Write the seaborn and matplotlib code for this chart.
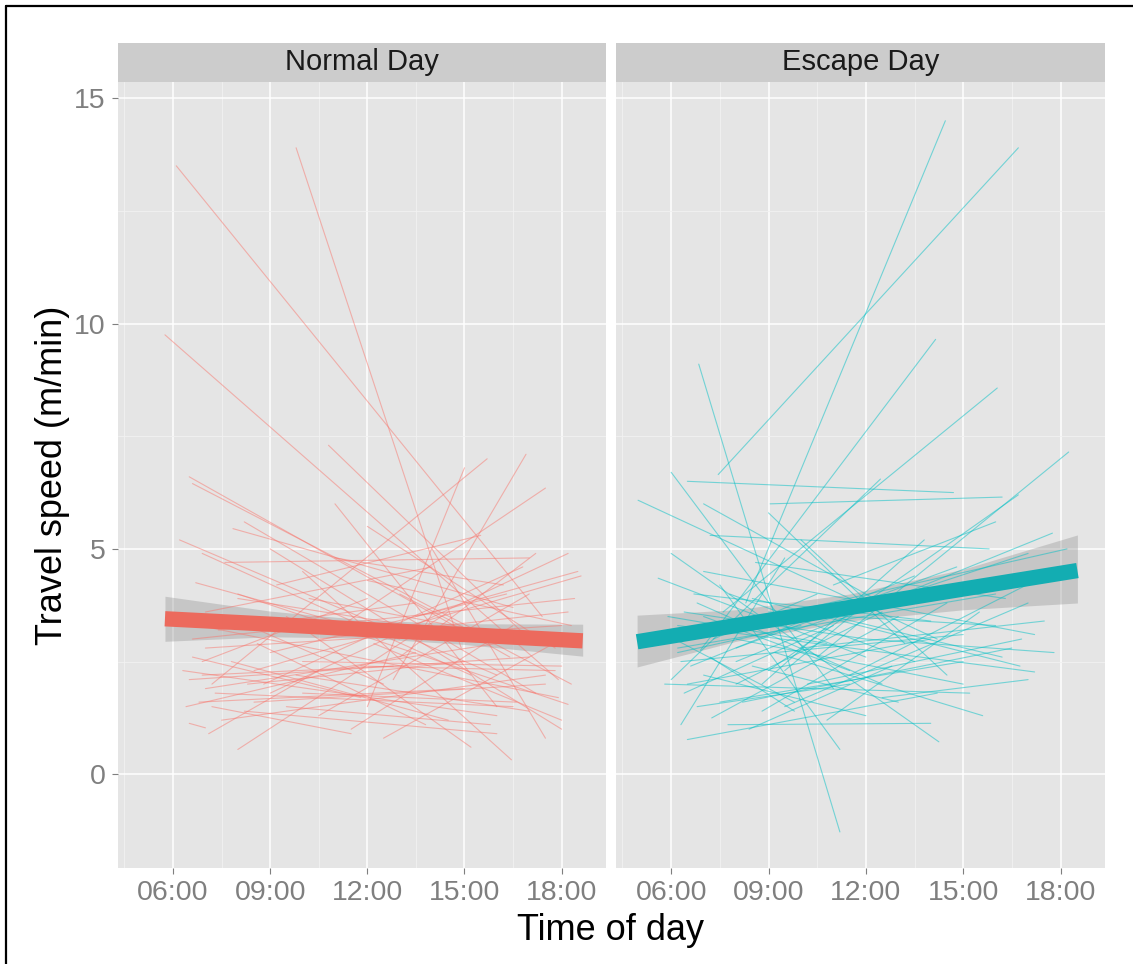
import matplotlib
matplotlib.use("Agg")
import numpy as np
import pandas as pd
import matplotlib.pyplot as plt
import seaborn as sns
from matplotlib.lines import Line2D

# Individual trend lines (start hour, start speed, end hour, end speed)
normal_t0 = [6.1, 9.8, 5.75, 6.5, 6.6, 10.8, 7.2, 12.8, 11.0, 6.2, 8.2, 7.85, 9.0, 8.5, 6.5,
             8.0, 10.0, 9.5, 8.0, 6.8, 6.8, 6.5, 6.3, 6.7, 7.0, 7.5, 9.0, 11.0, 12.0, 7.0,
             8.6, 10.5, 6.9, 13.0, 7.3, 9.2, 6.6, 11.5, 8.0, 14.0, 7.6, 10.0, 6.4, 12.5, 8.8,
             6.9, 13.5, 9.5, 7.1, 11.0, 6.6, 12.0, 10.2, 8.2, 12.2,
             7.0, 8.5, 7.8, 9.8, 6.9, 10.5, 8.0, 11.8, 7.4, 9.0, 12.0, 7.2, 10.0, 13.0, 8.3]
normal_v0 = [13.5, 13.9, 9.75, 6.6, 6.45, 7.3, 2.0, 2.1, 3.2, 5.2, 5.6, 5.45, 1.8, 2.3, 1.13,
             0.55, 4.5, 3.5, 4.0, 3.3, 1.6, 2.1, 2.3, 4.25, 2.8, 1.2, 5.0, 6.0, 5.5, 3.6,
             2.9, 1.3, 2.5, 4.0, 1.8, 4.2, 3.0, 1.0, 3.4, 5.0, 4.7, 2.5, 1.5, 0.8, 2.0,
             4.9, 3.5, 1.5, 0.9, 4.8, 2.6, 1.5, 3.9, 1.4, 2.9,
             1.9, 1.6, 2.5, 2.2, 2.2, 3.0, 3.9, 2.4, 3.2, 2.7, 4.3, 1.5, 1.8, 2.6, 2.0]
normal_t1 = [17.4, 14.9, 17.9, 16.4, 15.6, 17.0, 15.7, 16.9, 17.5, 16.0, 17.2, 16.5, 18.2, 18.6, 7.0,
             14.5, 16.45, 15.2, 18.2, 17.9, 15.0, 17.0, 16.0, 13.0, 18.0, 17.5, 18.0, 16.0, 17.8, 14.0,
             13.8, 17.0, 12.0, 18.3, 16.5, 15.5, 18.4, 16.5, 12.5, 17.5, 17.0, 18.0, 13.5, 18.0, 16.8,
             15.2, 18.5, 15.8, 10.5, 16.2, 11.8, 15.0, 17.6, 16.0, 18.0,
             16.0, 17.5, 14.5, 17.0, 12.8, 18.2, 16.0, 17.8, 13.5, 16.3, 18.3, 11.5, 16.6, 17.2, 15.0]
normal_v1 = [3.5, 2.8, 2.1, 2.6, 3.1, 3.0, 7.0, 7.1, 6.35, 2.2, 1.8, 3.7, 4.9, 4.4, 1.03,
             3.6, 0.32, 0.6, 1.55, 1.7, 1.9, 2.6, 1.3, 3.0, 3.3, 2.2, 1.0, 1.5, 2.8, 4.6,
             1.1, 4.0, 3.9, 2.0, 1.5, 5.3, 3.9, 3.3, 2.0, 0.8, 4.8, 2.4, 2.7, 3.0, 4.6,
             2.2, 4.5, 1.1, 2.3, 4.2, 1.7, 6.8, 2.9, 0.9, 1.2,
             2.9, 2.0, 1.2, 1.4, 2.4, 3.6, 3.0, 2.3, 3.8, 4.0, 3.3, 0.9, 1.6, 4.9, 2.5]

escape_t0 = [8.3, 7.45, 6.85, 6.9, 6.0, 4.98, 6.5, 9.05, 10.5, 7.6, 9.0, 6.0, 8.0, 7.0, 6.2,
             8.5, 7.75, 6.5, 6.0, 7.5, 6.3, 5.8, 7.25, 5.6, 6.2, 8.0, 6.6, 9.5, 10.0, 6.8,
             8.8, 7.2, 5.9, 11.5, 6.4, 8.2, 9.8, 6.7, 10.8, 7.0, 12.0, 8.6, 6.1, 9.2, 7.8,
             11.0, 6.3, 8.4, 10.2, 7.0, 9.0, 12.5, 6.8, 8.0, 7.3,
             6.5, 7.0, 8.0, 6.2, 9.0, 7.5, 8.5, 6.8, 10.0, 7.2, 8.8, 6.4, 11.0, 7.8, 9.5]
escape_v0 = [3.8, 6.65, 9.1, 2.75, 6.7, 6.08, 6.5, 6.0, 2.6, 3.6, 2.3, 2.1, 2.5, 4.5, 3.3,
             3.9, 1.1, 0.77, 4.9, 4.2, 1.1, 2.0, 1.25, 4.35, 2.8, 3.0, 2.4, 1.5, 5.2, 3.8,
             2.0, 5.3, 3.5, 2.2, 1.8, 1.6, 3.2, 4.0, 1.2, 2.2, 3.0, 4.7, 3.0, 2.7, 3.3,
             4.2, 2.5, 1.0, 2.0, 6.0, 5.8, 1.7, 1.5, 2.8, 3.0,
             2.0, 3.5, 2.0, 2.7, 3.6, 1.6, 2.4, 3.1, 2.8, 2.6, 1.4, 3.6, 3.5, 4.0, 2.3]
escape_t1 = [14.45, 16.7, 11.2, 14.15, 11.0, 14.2, 14.7, 16.2, 18.25, 16.05, 16.7, 12.45, 17.75, 17.2, 17.2,
             16.75, 14.0, 14.2, 14.25, 11.2, 9.5, 15.2, 13.0, 12.0, 16.0, 15.0, 13.5, 17.0, 14.5, 12.5,
             13.8, 15.8, 10.8, 17.5, 11.0, 16.5, 17.0, 14.0, 15.5, 12.0, 17.8, 16.3, 9.8, 15.6, 18.2,
             16.0, 15.0, 12.8, 16.8, 12.5, 13.2, 17.0, 11.5, 14.8, 10.5,
             14.0, 11.5, 12.5, 10.0, 16.0, 15.0, 13.0, 16.5, 17.5, 9.8, 14.5, 12.0, 16.2, 13.5, 12.2]
escape_v1 = [14.5, 13.9, -1.28, 9.65, 1.9, 3.0, 6.25, 6.15, 7.15, 8.57, 6.2, 6.55, 5.35, 3.1, 2.27,
             2.4, 1.13, 1.8, 0.72, 0.55, 4.8, 1.8, 3.5, 2.6, 4.0, 2.0, 4.4, 3.8, 2.2, 2.0,
             5.2, 5.0, 2.9, 4.4, 3.3, 2.8, 4.9, 3.4, 3.6, 1.3, 2.7, 3.9, 1.6, 1.3, 5.0,
             5.6, 3.1, 2.4, 3.0, 3.8, 2.9, 2.1, 2.0, 4.6, 4.0,
             3.0, 2.3, 3.6, 3.3, 3.3, 2.5, 1.6, 4.3, 3.4, 1.4, 3.8, 3.0, 2.6, 2.5, 3.9]

# Overall fit with confidence band
normal_fit_t = [5.75, 9.0, 12.0, 15.0, 18.65]
normal_fit = [3.45, 3.33, 3.21, 3.10, 2.96]
normal_lo = [2.95, 3.05, 3.02, 2.88, 2.62]
normal_hi = [3.95, 3.62, 3.42, 3.34, 3.33]

escape_fit_t = [4.95, 8.0, 11.5, 15.0, 18.52]
escape_fit = [2.94, 3.30, 3.70, 4.11, 4.52]
escape_lo = [2.38, 2.95, 3.40, 3.65, 3.80]
escape_hi = [3.53, 3.65, 4.00, 4.55, 5.31]

panel_names = ["Normal Day", "Escape Day"]
x_ticks = [6, 9, 12, 15, 18]
x_labels = ["06:00", "09:00", "12:00", "15:00", "18:00"]
y_ticks = [0, 5, 10, 15]


def to_long(t0, v0, t1, v1):
    rows = []
    for i in range(len(t0)):
        rows.append({"id": i, "hour": t0[i], "speed": v0[i]})
        rows.append({"id": i, "hour": t1[i], "speed": v1[i]})
    return pd.DataFrame(rows)


sns.set_style("darkgrid", {"axes.facecolor": "#E5E5E5", "grid.color": "white"})
plt.rcParams["font.family"] = ["Liberation Sans", "DejaVu Sans"]

W, H = 1133, 964
fig = plt.figure(figsize=(W / 100, H / 100), dpi=100)


def box(l, t, r, b):
    return [l / W, 1 - b / H, (r - l) / W, (b - t) / H]


panels = [
    (to_long(normal_t0, normal_v0, normal_t1, normal_v1), "#F8766D", "#EC6A5D",
     normal_fit_t, normal_fit, normal_lo, normal_hi, (118, 606)),
    (to_long(escape_t0, escape_v0, escape_t1, escape_v1), "#00BFC4", "#13ADB2",
     escape_fit_t, escape_fit, escape_lo, escape_hi, (616, 1105)),
]

for k, (df, thin_col, thick_col, ft, fv, lo, hi, (l, r)) in enumerate(panels):
    ax = fig.add_axes(box(l, 82, r, 868))
    sns.lineplot(data=df, x="hour", y="speed", units="id", estimator=None,
                 color=thin_col, lw=0.8, alpha=0.5, ax=ax, legend=False)
    ax.fill_between(ft, lo, hi, color="#999999", alpha=0.4, lw=0)
    ax.plot(ft, fv, color=thick_col, lw=11, solid_capstyle="butt")

    ax.set_xlim(4.30, 19.37)
    ax.set_ylim(-2.08, 15.36)
    ax.set_xticks(x_ticks)
    ax.set_xticklabels(x_labels)
    ax.set_xticks([4.5, 7.5, 10.5, 13.5, 16.5], minor=True)
    ax.set_yticks(y_ticks)
    ax.set_yticks([2.5, 7.5, 12.5], minor=True)
    ax.grid(which="major", color="white", lw=1.1)
    ax.grid(which="minor", color="#F2F2F2", lw=0.6)
    ax.set_axisbelow(True)
    for s in ax.spines.values():
        s.set_visible(False)
    ax.set_xlabel("")
    ax.set_ylabel("")
    ax.tick_params(which="minor", length=0)
    ax.tick_params(which="major", bottom=True, left=(k == 0), labelleft=(k == 0),
                   length=4, width=0.8, color="#7F7F7F", labelcolor="#7F7F7F",
                   labelsize=20.5, pad=5)

    sax = fig.add_axes(box(l, 43, r, 82))
    sax.set_facecolor("#CCCCCC")
    sax.grid(False)
    sax.set_xticks([])
    sax.set_yticks([])
    for s in sax.spines.values():
        s.set_visible(False)
    sax.text(0.5, 0.5, panel_names[k], ha="center", va="center",
             fontsize=21, color="#1A1A1A", transform=sax.transAxes)

fig.text(53 / W, 1 - 475 / H, "Travel speed (m/min)", rotation=90,
         ha="center", va="center", fontsize=26, color="black")
fig.text(611 / W, 1 - 930 / H, "Time of day", ha="center", va="center",
         fontsize=26, color="black")

# picture frame (top and left edges visible)
fig.add_artist(Line2D([6 / W, 6 / W], [0, 1 - 6 / H], transform=fig.transFigure,
                      color="black", lw=1.6))
fig.add_artist(Line2D([6 / W, 1], [1 - 6 / H, 1 - 6 / H], transform=fig.transFigure,
                      color="black", lw=1.6))

fig.savefig("out.png", dpi=100)
